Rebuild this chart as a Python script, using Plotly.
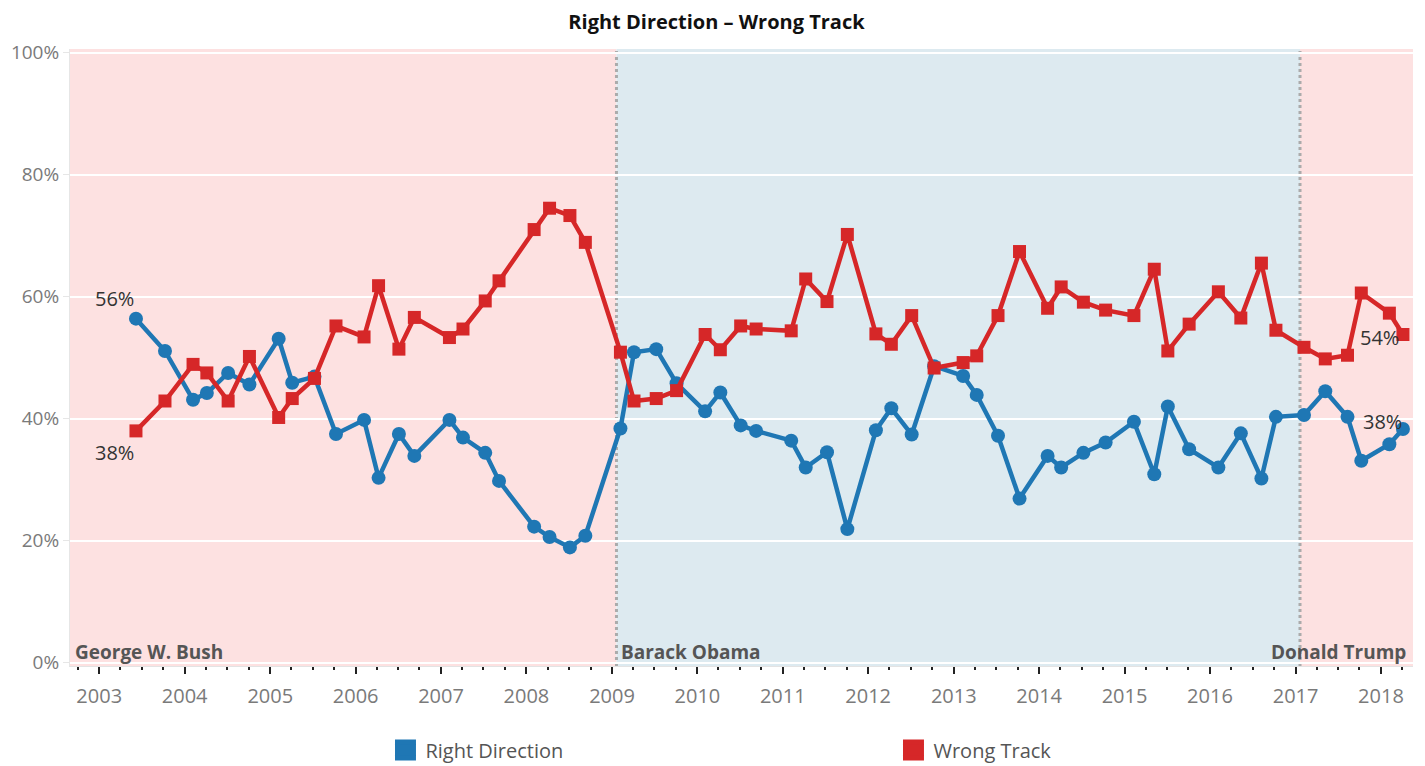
import plotly.graph_objects as go

dates = [
    "2003-06-07", "2003-10-09", "2004-02-06", "2004-04-05", "2004-07-05", "2004-10-04",
    "2005-02-06", "2005-04-05", "2005-07-09", "2005-10-09", "2006-02-06", "2006-04-09",
    "2006-07-05", "2006-09-09", "2007-02-06", "2007-04-05", "2007-07-09", "2007-09-06",
    "2008-02-03", "2008-04-09", "2008-07-05", "2008-09-09", "2009-02-06", "2009-04-05",
    "2009-07-09", "2009-10-04", "2010-02-03", "2010-04-09", "2010-07-05", "2010-09-09",
    "2011-02-06", "2011-04-09", "2011-07-09", "2011-10-04", "2012-02-03", "2012-04-09",
    "2012-07-05", "2012-10-09", "2013-02-10", "2013-04-09", "2013-07-09", "2013-10-09",
    "2014-02-06", "2014-04-05", "2014-07-09", "2014-10-12", "2015-02-10", "2015-05-08",
    "2015-07-05", "2015-10-04", "2016-02-06", "2016-05-12", "2016-08-08", "2016-10-09",
    "2017-02-06", "2017-05-08", "2017-08-11", "2017-10-09", "2018-02-06", "2018-04-05",
]

right_direction = [
    56.4, 51.1, 43.1, 44.2, 47.5, 45.6, 53.1, 45.9, 46.9, 37.5, 39.8, 30.3,
    37.5, 33.9, 39.8, 36.9, 34.4, 29.8, 22.3, 20.6, 18.9, 20.8, 38.4, 50.9,
    51.4, 45.8, 41.2, 44.3, 38.9, 38.0, 36.4, 32.0, 34.5, 21.9, 38.1, 41.7,
    37.4, 48.6, 47.0, 43.9, 37.2, 26.9, 33.9, 32.0, 34.4, 36.1, 39.5, 30.9,
    42.0, 35.0, 32.0, 37.6, 30.2, 40.3, 40.6, 44.5, 40.3, 33.1, 35.8, 38.3,
]

wrong_track = [
    38.0, 42.9, 48.9, 47.5, 42.9, 50.2, 40.2, 43.3, 46.6, 55.2, 53.4, 61.8,
    51.4, 56.6, 53.3, 54.7, 59.3, 62.6, 71.0, 74.5, 73.3, 68.9, 50.9, 42.9,
    43.3, 44.6, 53.8, 51.3, 55.2, 54.7, 54.4, 62.9, 59.2, 70.2, 53.9, 52.2,
    56.9, 48.3, 49.2, 50.3, 56.9, 67.4, 58.1, 61.6, 59.1, 57.8, 56.9, 64.5,
    51.1, 55.5, 60.8, 56.5, 65.5, 54.5, 51.7, 49.8, 50.4, 60.6, 57.3, 53.8,
]

presidents = ["George W. Bush", "Barack Obama", "Donald Trump"]
term_starts = ["2002-08-29", "2009-01-20", "2017-01-20"]
term_ends = ["2009-01-20", "2017-01-20", "2018-05-18"]
term_colors = ["#FDE1E1", "#DDEAF0", "#FDE1E1"]

y_ticks = [0, 20, 40, 60, 80, 100]
y_tick_labels = ["0%", "20%", "40%", "60%", "80%", "100%"]
x_range = ["2002-08-29", "2018-05-18"]

BLUE = "#1F77B4"
RED = "#D62728"
FONT = "Open Sans"

fig = go.Figure()

fig.add_trace(go.Scatter(
    x=dates, y=right_direction, mode="lines+markers", name="Right Direction",
    line=dict(color=BLUE, width=4.5), marker=dict(symbol="circle", size=14, color=BLUE),
    showlegend=False,
))
fig.add_trace(go.Scatter(
    x=dates, y=wrong_track, mode="lines+markers", name="Wrong Track",
    line=dict(color=RED, width=4.5), marker=dict(symbol="square", size=13, color=RED),
    showlegend=False,
))
# legend swatches
for nm, col in [("Right Direction", BLUE), ("Wrong Track", RED)]:
    fig.add_trace(go.Scatter(
        x=[None], y=[None], mode="markers", name=nm,
        marker=dict(symbol="square", size=16, color=col, line=dict(color=col, width=5)),
        showlegend=True,
    ))

shapes = []
for s, e, c in zip(term_starts, term_ends, term_colors):
    shapes.append(dict(type="rect", xref="x", yref="paper", x0=s, x1=e, y0=0, y1=1,
                       fillcolor=c, line=dict(width=0), layer="below"))
for s in term_starts[1:]:
    shapes.append(dict(type="line", xref="x", yref="paper", x0=s, x1=s, y0=0, y1=1,
                       line=dict(color="#ABABAB", width=3, dash="dot"), layer="below"))

annotations = []
pres_font = dict(family=FONT, size=19, color="#555555")
annotations.append(dict(text="<b>" + presidents[0] + "</b>", xref="paper", yref="paper", x=0, y=0,
                        xanchor="left", yanchor="bottom", xshift=3, yshift=-1, showarrow=False, font=pres_font))
annotations.append(dict(text="<b>" + presidents[1] + "</b>", xref="x", yref="paper", x=term_starts[1], y=0,
                        xanchor="left", yanchor="bottom", xshift=3, yshift=-1, showarrow=False, font=pres_font))
annotations.append(dict(text="<b>" + presidents[2] + "</b>", xref="paper", yref="paper", x=1, y=0,
                        xanchor="right", yanchor="bottom", xshift=-5, yshift=-1, showarrow=False, font=pres_font))

lab_font = dict(family=FONT, size=20, color="#333333")
annotations.append(dict(text=f"{right_direction[0]:.0f}%", x=dates[0], y=right_direction[0], xref="x", yref="y",
                        showarrow=False, xshift=-21, yshift=20, font=lab_font))
annotations.append(dict(text=f"{wrong_track[0]:.0f}%", x=dates[0], y=wrong_track[0], xref="x", yref="y",
                        showarrow=False, xshift=-21, yshift=-22, font=lab_font))
annotations.append(dict(text=f"{wrong_track[-1]:.0f}%", x=dates[-1], y=wrong_track[-1], xref="x", yref="y",
                        showarrow=False, xshift=-23, yshift=-3, font=lab_font))
annotations.append(dict(text=f"{right_direction[-1]:.0f}%", x=dates[-1], y=right_direction[-1], xref="x", yref="y",
                        showarrow=False, xshift=-20, yshift=8, font=lab_font))

# page body has an 8px margin, so the figure is drawn 8px smaller and offset
fig.update_layout(
    width=1417, height=758,
    margin=dict(l=62, r=12, t=41, b=100, autoexpand=False),
    paper_bgcolor="white", plot_bgcolor="white",
    title=dict(text="<b>Right Direction – Wrong Track</b>", x=0.5, xanchor="center", y=0.982, yanchor="middle",
               yref="container", font=dict(family=FONT, size=20, color="#111111")),
    font=dict(family=FONT),
    shapes=shapes,
    annotations=annotations,
    legend=dict(orientation="h", x=0.2349, xanchor="left", y=-0.136, yanchor="middle",
                entrywidth=463, entrywidthmode="pixels",
                font=dict(family=FONT, size=20, color="#555555")),
    xaxis=dict(
        type="date", range=x_range, tick0="2003-01-01", dtick="M12", tickformat="%Y",
        ticks="outside", ticklen=7, tickwidth=2, tickcolor="#222222",
        minor=dict(dtick="M3", ticks="outside", ticklen=3, tickwidth=2, tickcolor="#222222", showgrid=False),
        showgrid=False, showline=True, linecolor="#E3E3E3", linewidth=1,
        tickfont=dict(family=FONT, size=20, color="#7A7A7A"), ticklabelstandoff=5,
        zeroline=False, automargin=False,
    ),
    yaxis=dict(
        range=[-0.54, 100.6], tickmode="array", tickvals=y_ticks, ticktext=y_tick_labels,
        showgrid=True, gridcolor="white", gridwidth=2,
        ticks="outside", ticklen=6, tickcolor="#E6E6E6",
        showline=True, linecolor="#E6E6E6", linewidth=1,
        tickfont=dict(family=FONT, size=19, color="#7A7A7A"),
        zeroline=False, automargin=False,
    ),
)

fig.write_html("out.html")
